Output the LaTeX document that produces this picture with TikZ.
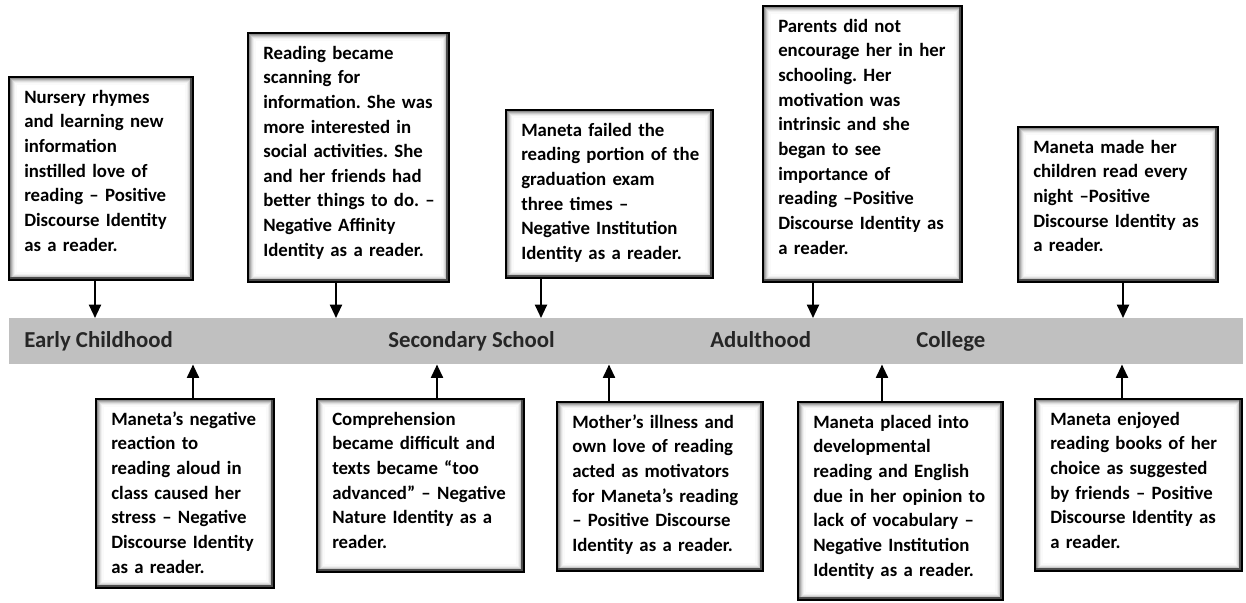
\documentclass[tikz,border=0pt]{standalone}
\usepackage{fontspec}
\setmainfont{Carlito}
\usetikzlibrary{arrows.meta}
\frenchspacing

\definecolor{bargray}{RGB}{192,192,192}

\tikzset{
  tlframe/.style={draw=black, line width=1.4pt, fill=white, inner sep=0pt,
    outer sep=0pt, anchor=north west,
    path picture={
      \foreach \i/\c in {1/60,2/45,3/32,4/21,5/12,6/6,7/2}{
        \draw[black!\c, line width=0.8pt]
          ([shift={(\i,\i)}]path picture bounding box.north west) rectangle
          ([shift={(-\i,-\i)}]path picture bounding box.south east);
      }
      \fill[black!70] ([shift={(-3,0)}]path picture bounding box.north east)
        rectangle (path picture bounding box.south east);
      \fill[black!70] ([shift={(0,-3)}]path picture bounding box.south west)
        rectangle (path picture bounding box.south east);
    }},
  tltext/.style={inner sep=0pt, align=left, text width=160pt,
    font=\fontsize{14.1}{18.5}\selectfont\bfseries},
  tllabel/.style={inner sep=0pt, anchor=base west, text=black!85,
    font=\fontsize{17.1}{20}\selectfont\bfseries},
  tlbar/.style={fill=bargray, draw=none, inner sep=0pt, anchor=north west},
  arr/.style={line width=1.5pt, -{Triangle[width=9pt,length=10pt]}}
}

% name, left, top, right, bottom (pixels), text
\newcommand\tlbox[6]{%
  \node[tlframe, minimum width={(#4-#2)*0.75pt},
        minimum height={(#5-#3)*0.75pt}] (#1) at (#2,#3) {};
  \node[tltext, anchor=base west] (#1-text) at ([shift={(15,26)}]#1.north west) {#6};
}

\begin{document}
\begin{tikzpicture}[x=0.75pt,y=-0.75pt]
\useasboundingbox (0,0) rectangle (1246,603);

% timeline bar
\node[tlbar, minimum width={1234*0.75pt}, minimum height={46*0.75pt}] (bar) at (9,318) {};
\node[tllabel] (lbl-early) at (24,347) {Early Childhood};
\node[tllabel] (lbl-secondary) at (388,347) {Secondary School};
\node[tllabel] (lbl-adult) at (710,347) {Adulthood};
\node[tllabel] (lbl-college) at (916,347) {College};

% events above the timeline
\tlbox{nursery}{9}{77}{193}{280}{Nursery rhymes\\and learning new\\information\\instilled love of\\reading – Positive\\Discourse Identity\\as a reader.}
\tlbox{scanning}{248}{33}{449}{282}{Reading became\\scanning for\\information. She was\\more interested in\\social activities. She\\and her friends had\\better things to do. –\\Negative Affinity\\Identity as a reader.}
\tlbox{exam}{506}{110}{713}{278}{Maneta failed the\\reading portion of the\\graduation exam\\three times –\\Negative Institution\\Identity as a reader.}
\tlbox{parents}{763}{6}{962}{282}{Parents did not\\encourage her in her\\schooling. Her\\motivation was\\intrinsic and she\\began to see\\importance of\\reading –Positive\\Discourse Identity as\\a reader.}
\tlbox{children}{1018}{127}{1218}{282}{Maneta made her\\children read every\\night –Positive\\Discourse Identity as\\a reader.}

% events below the timeline
\tlbox{aloud}{96}{399}{274}{588}{Maneta’s negative\\reaction to\\reading aloud in\\class caused her\\stress – Negative\\Discourse Identity\\as a reader.}
\tlbox{comprehension}{317}{399}{524}{572}{Comprehension\\became difficult and\\texts became “too\\advanced” – Negative\\Nature Identity as a\\reader.}
\tlbox{mother}{557}{402}{763}{571}{Mother’s illness and\\own love of reading\\acted as motivators\\for Maneta’s reading\\– Positive Discourse\\Identity as a reader.}
\tlbox{placed}{798}{402}{1003}{600}{Maneta placed into\\developmental\\reading and English\\due in her opinion to\\lack of vocabulary –\\Negative Institution\\Identity as a reader.}
\tlbox{enjoyed}{1035}{399}{1242}{571}{Maneta enjoyed\\reading books of her\\choice as suggested\\by friends – Positive\\Discourse Identity as\\a reader.}

% connector columns
\coordinate (c-nursery) at (95,0);
\coordinate (c-scanning) at (336,0);
\coordinate (c-exam) at (541,0);
\coordinate (c-parents) at (813,0);
\coordinate (c-children) at (1123,0);
\coordinate (c-aloud) at (193,0);
\coordinate (c-comprehension) at (437,0);
\coordinate (c-mother) at (609,0);
\coordinate (c-placed) at (882,0);
\coordinate (c-enjoyed) at (1122,0);

% connectors down to the timeline
\foreach \n in {nursery,scanning,exam,parents,children}
  \draw[arr] (\n.south -| c-\n) -- (bar.north -| c-\n);
% connectors up to the timeline
\foreach \n in {aloud,comprehension,mother,placed,enjoyed}
  \draw[arr] (\n.north -| c-\n) -- (bar.south -| c-\n);
\end{tikzpicture}
\end{document}
